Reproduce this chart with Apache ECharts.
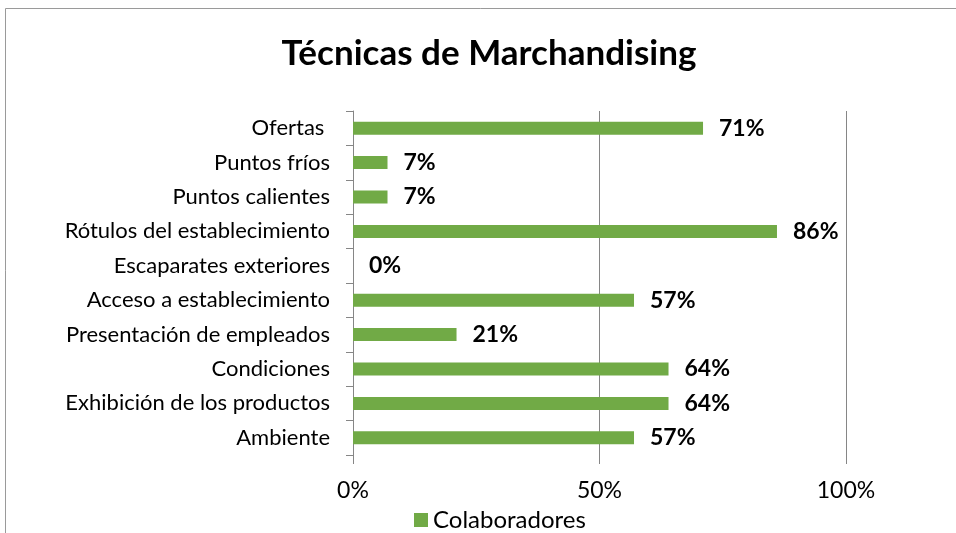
<!DOCTYPE html>
<html>
<head>
<meta charset="utf-8">
<script src="https://cdn.jsdelivr.net/npm/echarts@6/dist/echarts.min.js"></script>
<style>
  html, body { margin: 0; padding: 0; background: #fff; }
  #chart { width: 956px; height: 533px; }
</style>
</head>
<body>
<div id="chart"></div>
<script>
// categories listed top to bottom as in the picture
const categories = [
  "Ofertas ",
  "Puntos fríos",
  "Puntos calientes",
  "Rótulos del establecimiento",
  "Escaparates exteriores",
  "Acceso a establecimiento",
  "Presentación de empleados",
  "Condiciones",
  "Exhibición de los productos",
  "Ambiente",
];
const colaboradores = [71, 7, 7, 86, 0, 57, 21, 64, 64, 57];
const xTicks = [0, 50, 100];

const FONT = "Lato";

const chart = echarts.init(document.getElementById("chart"));

const options = {
  animation: false,
  textStyle: { fontFamily: FONT },
  title: {
    text: "Técnicas de Marchandising",
    left: 484,
    textAlign: "center",
    top: 31,
    textStyle: { fontFamily: FONT, fontSize: 35, fontWeight: "bold", color: "#000" },
  },
  graphic: [
    {
      type: "polyline",
      shape: { points: [[5.5, 533], [5.5, 8.5], [956, 8.5]] },
      style: { stroke: "#9a9a9a", lineWidth: 1, fill: null },
      silent: true,
    },
  ],
  legend: {
    data: ["Colaboradores"],
    left: 409,
    top: 503,
    itemWidth: 14,
    itemHeight: 14,
    itemGap: 6,
    icon: "rect",
    textStyle: { fontFamily: FONT, fontSize: 24, color: "#000" },
  },
  grid: { left: 353, right: 110, top: 111, bottom: 78 },
  xAxis: {
    type: "value",
    min: xTicks[0],
    max: xTicks[xTicks.length - 1],
    interval: 50,
    axisLine: { show: false },
    axisTick: { show: true, length: 9, lineStyle: { color: "#868686" } },
    splitLine: { show: true, lineStyle: { color: "#868686", width: 1 } },
    axisLabel: {
      formatter: "{value}%",
      fontFamily: FONT,
      fontSize: 23,
      color: "#000",
      margin: 24,
    },
  },
  yAxis: {
    type: "category",
    data: categories,
    inverse: true,
    axisLine: { show: true, lineStyle: { color: "#868686" } },
    axisTick: { show: true, length: 7, lineStyle: { color: "#868686" } },
    axisLabel: {
      fontFamily: FONT,
      fontSize: 22,
      color: "#000",
      margin: 23,
    },
  },
  series: [
    {
      name: "Colaboradores",
      type: "bar",
      data: colaboradores,
      barWidth: 13,
      itemStyle: { color: "#71AA46" },
      label: {
        show: true,
        position: "right",
        distance: 16,
        formatter: "{c}%",
        fontFamily: FONT,
        fontSize: 23,
        fontWeight: "bold",
        color: "#000",
      },
    },
  ],
};

chart.setOption(options);
</script>
</body>
</html>
